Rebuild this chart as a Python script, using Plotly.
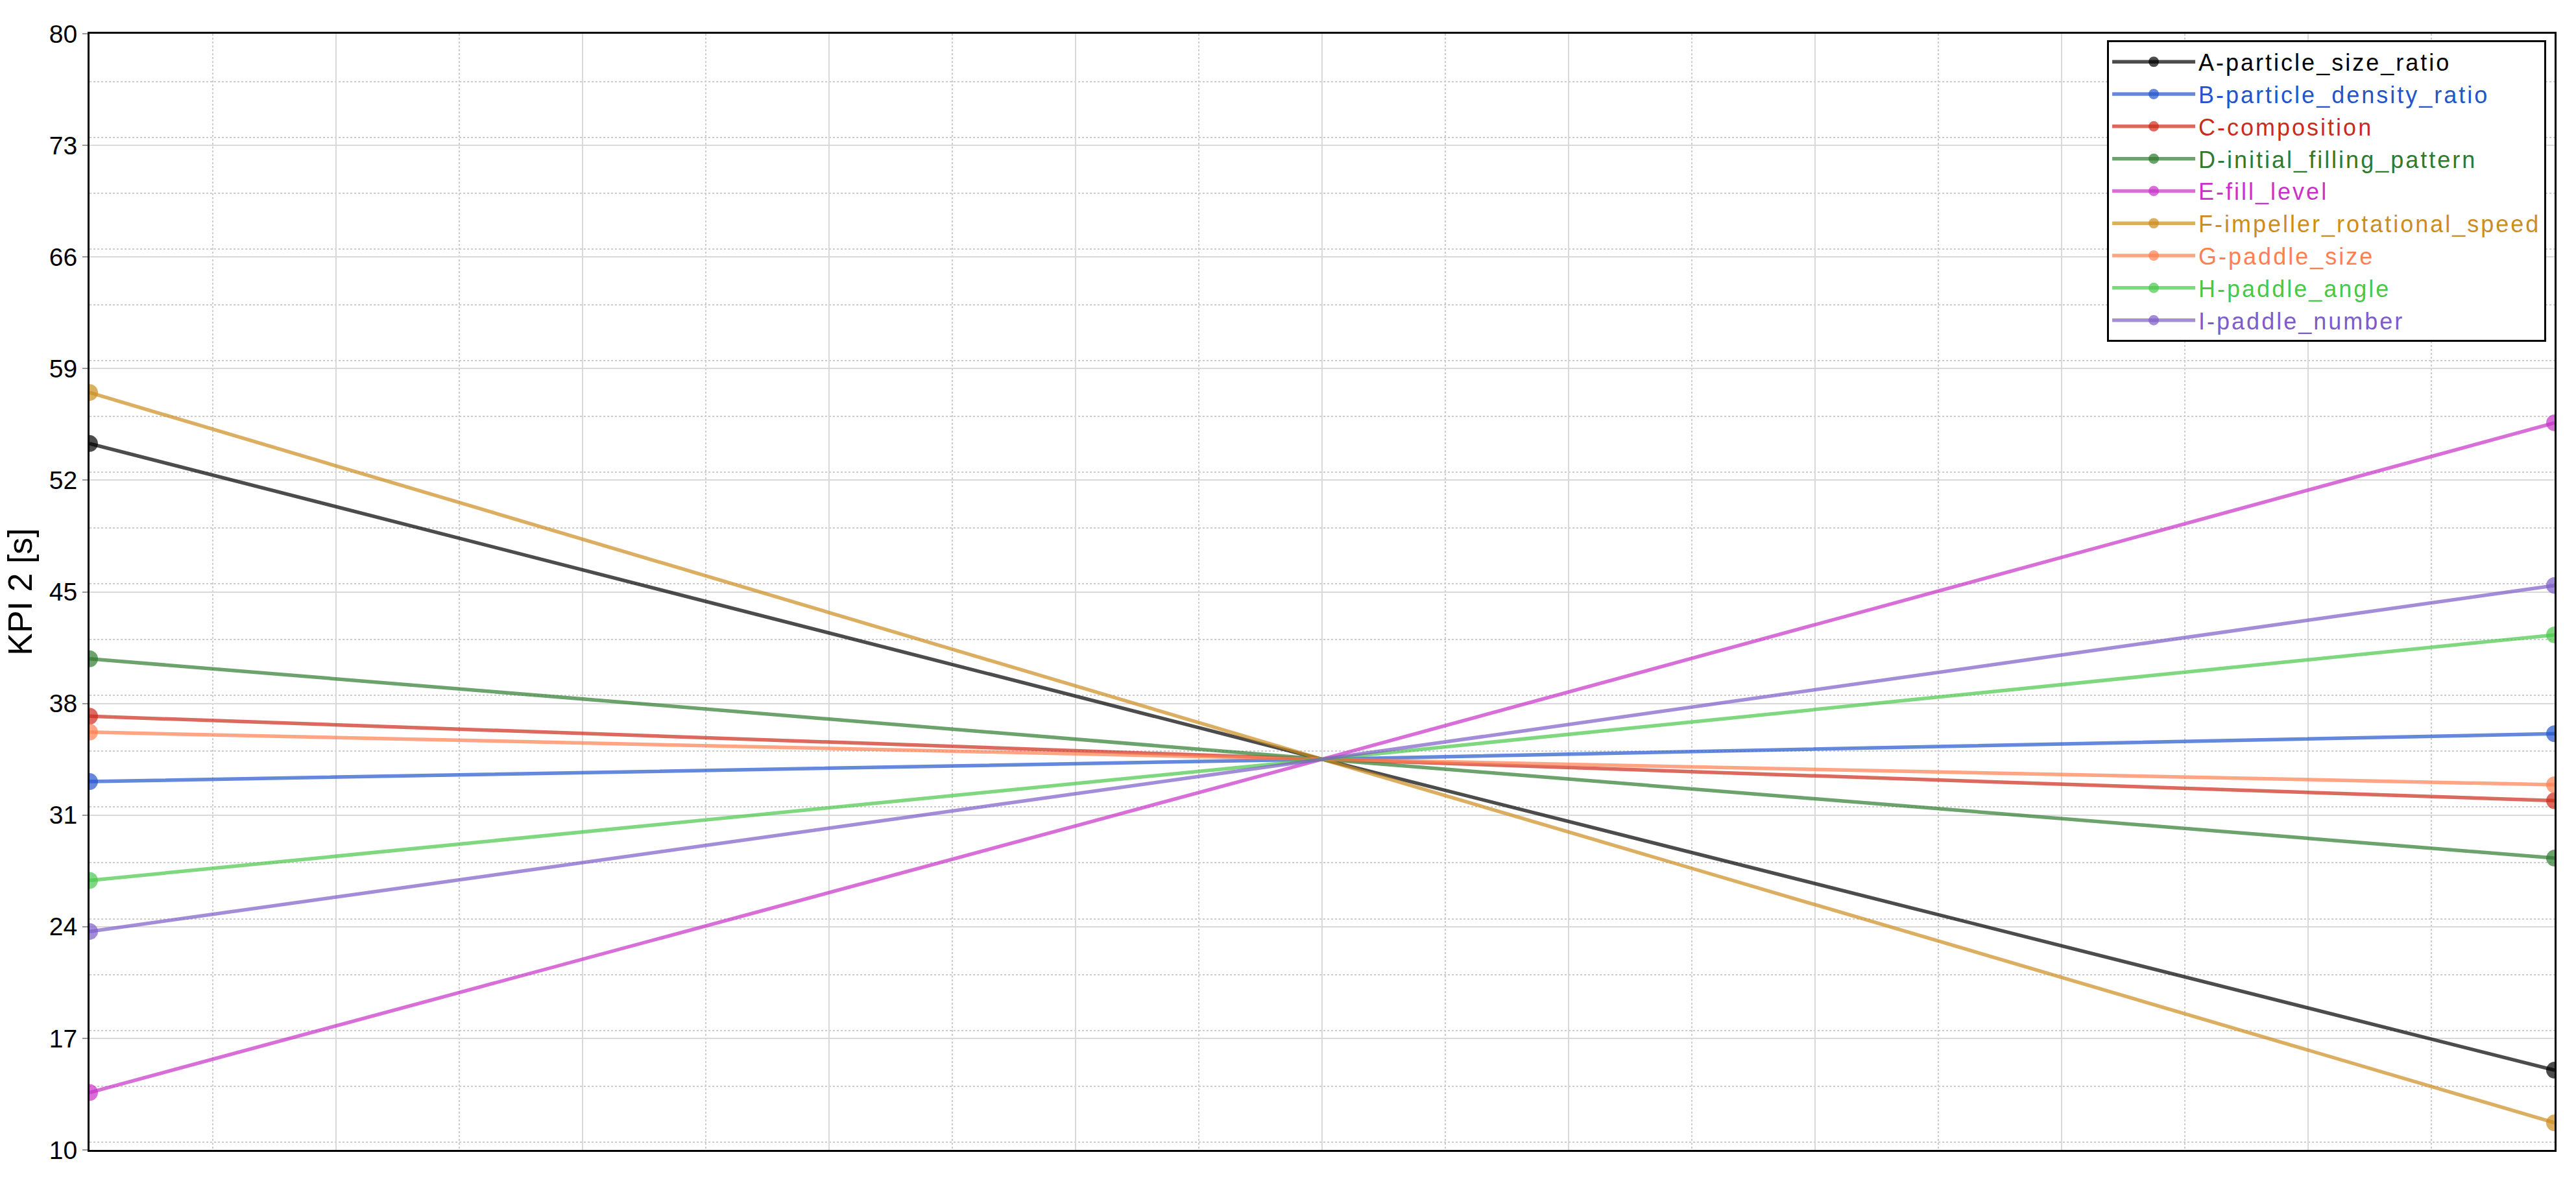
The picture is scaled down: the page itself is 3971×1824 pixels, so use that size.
import plotly.graph_objects as go

# coded factor levels (low, centre, high)
levels = [-1, 0, 1]

factor_names = [
    "A-particle_size_ratio",
    "B-particle_density_ratio",
    "C-composition",
    "D-initial_filling_pattern",
    "E-fill_level",
    "F-impeller_rotational_speed",
    "G-paddle_size",
    "H-paddle_angle",
    "I-paddle_number",
]

# KPI 2 [s] at low / centre / high level of each factor
kpi_a = [54.3, 34.5, 15.0]
kpi_b = [33.1, 34.5, 36.1]
kpi_c = [37.2, 34.5, 31.9]
kpi_d = [40.8, 34.5, 28.3]
kpi_e = [13.6, 34.5, 55.6]
kpi_f = [57.5, 34.5, 11.7]
kpi_g = [36.2, 34.5, 32.9]
kpi_h = [26.9, 34.5, 42.3]
kpi_i = [23.7, 34.5, 45.4]

series = [kpi_a, kpi_b, kpi_c, kpi_d, kpi_e, kpi_f, kpi_g, kpi_h, kpi_i]

marker_rgb = [
    (0, 0, 0),
    (34, 85, 204),
    (204, 42, 26),
    (46, 122, 46),
    (200, 50, 200),
    (205, 140, 30),
    (255, 127, 80),
    (72, 200, 72),
    (124, 92, 200),
]

fig = go.Figure()

for name, ys, rgb in zip(factor_names, series, marker_rgb):
    solid = "rgb(%d,%d,%d)" % rgb
    faded = "rgba(%d,%d,%d,0.7)" % rgb
    fig.add_trace(go.Scatter(
        x=levels,
        y=ys,
        mode="lines+markers",
        # legend text in the series colour, slightly tracked out like the original
        name=f'<span style="color:{solid};letter-spacing:3px">{name}</span>',
        line=dict(color=faded, width=5.5),
        marker=dict(color=solid, size=[26, 0, 26], line=dict(width=0)),
        cliponaxis=True,
    ))

grid_major = "#d9d9d9"
grid_minor = "#cccccc"

fig.update_xaxes(
    range=[-1, 1],
    tick0=-1,
    dtick=0.2,
    showticklabels=False,
    ticks="",
    showgrid=True,
    gridcolor=grid_major,
    gridwidth=2,
    minor=dict(dtick=0.1, showgrid=True, gridcolor=grid_minor, gridwidth=2, griddash="dot"),
    zeroline=False,
    showline=True,
    linecolor="black",
    linewidth=3,
    mirror=True,
)

fig.update_yaxes(
    range=[10, 80],
    tick0=10,
    dtick=7,
    ticks="outside",
    ticklen=8,
    tickwidth=2,
    tickcolor="#999999",
    tickfont=dict(size=39, color="black"),
    title=dict(text="KPI 2 [s]", font=dict(size=52, color="black"), standoff=10),
    showgrid=True,
    gridcolor=grid_major,
    gridwidth=2,
    minor=dict(dtick=3.5, showgrid=True, gridcolor=grid_minor, gridwidth=2, griddash="dot"),
    zeroline=False,
    showline=True,
    linecolor="black",
    linewidth=3,
    mirror=True,
)

fig.update_layout(
    width=3971,
    height=1824,
    margin=dict(l=138, r=33, t=52, b=51),
    paper_bgcolor="white",
    plot_bgcolor="white",
    font=dict(family="Liberation Sans, Arial, sans-serif", color="black"),
    showlegend=True,
    legend=dict(
        x=0.9966,
        y=0.994,
        xanchor="right",
        yanchor="top",
        bgcolor="white",
        bordercolor="black",
        borderwidth=3,
        font=dict(size=36),
        itemwidth=128,
        traceorder="normal",
    ),
)

# page body has an 8px default margin; drop it so the figure fills the window
fig.write_html(
    "out.html",
    config={"displayModeBar": False},
    post_script="document.body.style.margin='0';",
)
